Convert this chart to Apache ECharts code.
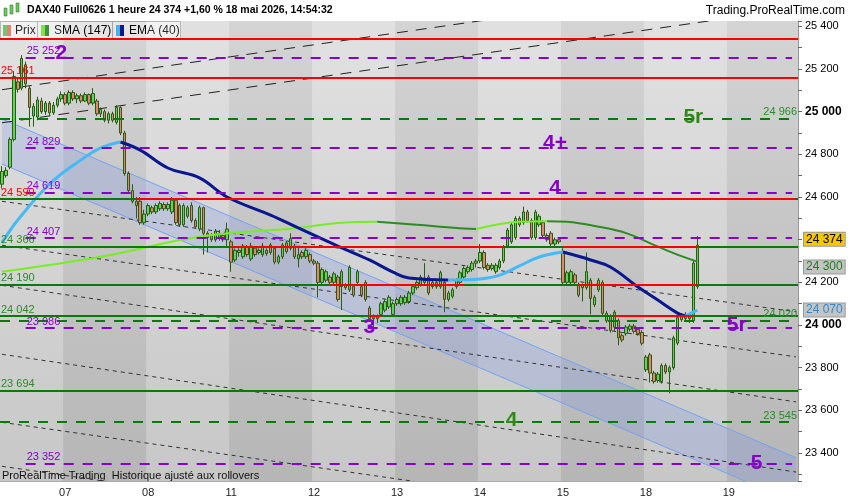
<!DOCTYPE html>
<html>
<head>
<meta charset="utf-8">
<script src="https://cdn.jsdelivr.net/npm/echarts@6/dist/echarts.min.js"></script>
<style>
  html, body { margin: 0; padding: 0; background: #fff; }
  #chart { width: 850px; height: 500px; }
</style>
</head>
<body>
<div id="chart"></div>
<script>
// hourly candles [open, close, low, high], one array per trading day
var day06 = [
  [24660,24720,24640,24745],[24700,24725,24690,24740],[24740,24870,24730,24880],[24870,25165,24860,25190],
  [25140,25105,25090,25160],[25110,25250,25100,25265],[25220,25130,25110,25235],[25110,25020,24930,25120],
  [24980,25025,24930,25040],[24975,25055,24960,25070],[25050,25000,24990,25065],[25000,25040,24985,25050],
  [25040,24995,24980,25050],[24995,25030,24985,25045],[25030,25060,25020,25070],[25060,25080,25045,25095]
];
var day07 = [
  [25080,25040,25030,25090],[25040,25090,25030,25100],[25090,25060,25050,25100],[25060,25075,25040,25085],
  [25075,25050,25040,25085],[25050,25080,25045,25090],[25080,25040,25030,25085],[25040,25085,25030,25110],
  [25050,24990,24980,25060],[24990,25010,24975,25020],[25000,24960,24950,25010],[24960,24990,24945,25000],
  [24990,24960,24950,25000],[24950,25020,24940,25030],[25020,24900,24890,25025],[24900,24710,24700,24910],
  [24710,24630,24620,24720],[24630,24580,24570,24660],[24580,24560,24500,24600],[24580,24480,24470,24600],
  [24480,24520,24470,24540]
];
var day08 = [
  [24520,24560,24510,24570],[24550,24530,24520,24560],[24530,24560,24520,24570],[24545,24570,24535,24580],
  [24565,24545,24535,24575],[24545,24565,24535,24575],[24530,24585,24520,24600],[24585,24480,24470,24590],
  [24560,24470,24460,24570],[24470,24560,24460,24570],[24510,24550,24500,24560],[24560,24490,24480,24575],
  [24490,24460,24450,24500],[24450,24550,24440,24560],[24550,24430,24330,24555],[24430,24410,24340,24440],
  [24420,24400,24390,24430],[24400,24440,24390,24450],[24405,24430,24395,24445],[24420,24400,24390,24430],
  [24400,24450,24370,24480]
];
var day11 = [
  [24390,24295,24250,24400],[24305,24350,24295,24360],[24350,24340,24320,24360],[24320,24370,24310,24380],
  [24365,24330,24320,24375],[24310,24370,24300,24385],[24360,24330,24320,24370],[24340,24350,24330,24360],
  [24330,24370,24320,24385],[24350,24335,24325,24360],[24375,24340,24330,24385],[24360,24295,24285,24370],
  [24295,24320,24285,24330],[24320,24375,24310,24385],[24385,24345,24335,24395],[24360,24405,24350,24430],
  [24370,24320,24310,24380],[24310,24330,24270,24370],[24340,24320,24310,24350],[24320,24350,24310,24360],
  [24330,24300,24290,24340]
];
var day12 = [
  [24300,24290,24280,24310],[24290,24200,24130,24300],[24200,24260,24190,24270],[24210,24250,24200,24260],
  [24225,24200,24190,24235],[24200,24240,24190,24250],[24225,24120,24110,24235],[24180,24250,24070,24260],
  [24185,24175,24165,24195],[24165,24270,24155,24280],[24180,24140,24130,24190],[24200,24250,24190,24260],
  [24180,24140,24130,24190],[24200,24120,24110,24210],[24080,24030,24020,24090],[24040,24030,23990,24050],
  [24040,24030,24010,24050],[24050,24100,24040,24110],[24070,24110,24060,24120],[24085,24130,24075,24140],
  [24050,24100,24040,24110]
];
var day13 = [
  [24100,24120,24090,24130],[24100,24130,24090,24140],[24105,24130,24095,24140],[24110,24150,24100,24160],
  [24150,24180,24140,24190],[24175,24200,24165,24210],[24190,24225,24180,24235],[24200,24220,24190,24290],
  [24225,24150,24140,24235],[24180,24200,24170,24210],[24200,24180,24170,24210],[24180,24245,24170,24255],
  [24200,24120,24060,24210],[24120,24150,24110,24160],[24135,24165,24125,24175],[24180,24210,24170,24220],
  [24200,24245,24190,24255],[24225,24265,24215,24275],[24250,24270,24240,24280],[24260,24290,24250,24300],
  [24290,24300,24270,24310]
];
var day14 = [
  [24300,24340,24290,24380],[24340,24270,24260,24350],[24280,24260,24250,24290],[24265,24280,24255,24290],
  [24250,24280,24240,24290],[24270,24300,24260,24310],[24300,24365,24290,24375],[24370,24445,24360,24455],
  [24390,24470,24380,24480],[24410,24500,24400,24510],[24500,24470,24460,24510],[24480,24530,24470,24555],
  [24530,24490,24480,24540],[24490,24410,24400,24500],[24410,24530,24400,24540],[24470,24510,24460,24520],
  [24480,24420,24410,24490],[24420,24400,24390,24430],[24430,24380,24370,24440],[24380,24400,24370,24410],
  [24400,24390,24380,24410]
];
var day15 = [
  [24340,24200,24190,24360],[24200,24245,24190,24255],[24200,24250,24190,24260],[24235,24200,24190,24245],
  [24190,24140,24130,24200],[24185,24175,24110,24195],[24175,24250,24165,24340],[24210,24125,24050,24220],
  [24095,24130,24085,24140],[24165,24210,24155,24220],[24200,24055,24045,24210],[24020,24055,24010,24065],
  [24040,23975,23965,24050],[23990,24060,23970,24070],[24020,23940,23905,24030],[23950,23930,23920,23960],
  [23960,23990,23950,24000],[23980,23995,23970,24005],[23995,23970,23960,24005],[23980,23960,23950,23990],
  [23965,23915,23905,23975]
];
var day18 = [
  [23790,23850,23780,23860],[23860,23775,23730,23870],[23775,23735,23725,23785],[23740,23770,23730,23780],
  [23735,23810,23725,23820],[23810,23780,23770,23820],[23780,23800,23680,23810],[23800,23940,23790,23950],
  [23915,24035,23905,24045],[24025,24045,24015,24055],[24030,24050,24020,24060],[24040,24030,24010,24050],
  [24020,24290,24010,24300],[24180,24374,24170,24417]
];
var dayNames = ['06', '07', '08', '11', '12', '13', '14', '15', '18', '19'];
var sessionHours = 21;
var totalSlots = 202;

// moving averages: [candle index] -> value
var smaIdx = [0, 25, 50, 75, 85, 95, 106, 117, 120, 131, 138, 143, 151, 158, 164, 170, 176];
var smaVal = [24250, 24320, 24414, 24455, 24478, 24484, 24469, 24452, 24450, 24484, 24487, 24484, 24461, 24431, 24384, 24337, 24297];
var emaIdx = [0, 4, 12, 20, 25, 30, 35, 42, 50, 57, 68, 75, 85, 93, 99, 103, 113, 116, 121, 126, 131, 136, 142, 149, 154, 161, 166, 171, 173, 176];
var emaVal = [24385, 24492, 24660, 24774, 24830, 24858, 24820, 24736, 24690, 24600, 24515, 24455, 24370, 24305, 24248, 24220, 24211, 24212, 24216, 24234, 24277, 24319, 24342, 24305, 24272, 24178, 24117, 24056, 24042, 24070];

// horizontal levels
var redLevels = [25340, 25161];
var greenLevels = [24590, 24366, 24190, 24042, 23694];
var purpleLevels = [25252, 24829, 24619, 24407, 23986, 23352];
var greenDashLevels = [24966, 24020, 23545];
// parts of green levels drawn red: [level, from candle, to candle]
var redSegments = [[24590, 34, 201], [24366, 58, 127], [24366, 142, 176], [24190, 83, 117], [24190, 146, 176], [24042, 93, 96], [24042, 155, 175]];

// trend lines [from index, price, to index, price]
var downLines = [[0, 24580, 201, 24062], [0, 24374, 201, 23851], [0, 24186, 201, 23640], [0, 23863, 201, 23311], [0, 23544, 201, 23011], [0, 23338, 201, 22798]];
var upLines = [[0, 25103, 201, 25639], [0, 24948, 201, 25484]];
// regression channel [from index, upper, lower, to index, upper, lower]
var channel = [[0, 24966, 24755, 201, 23378, 23167]];

// wave counts
var waveText = ['2', '3', '4', '4+', '5r', '4', '5r', '5'];
var waveIdx = [15, 93, 140, 140, 175, 129, 186, 191];
var waveVal = [25275, 23990, 24642, 24853, 24975, 23555, 24000, 23353];
var waveGreen = [false, false, false, false, true, true, false, false];

var lastSma = 24300, lastEma = 24070;

var PURPLE = '#8800cc', RED = '#ff0000', GREEN = '#0a7a0a', GTXT = '#2b8a2b';
var FONT = 'Liberation Sans';

function fmt(v) { return String(Math.round(v)).replace(/\B(?=(\d{3})+(?!\d))/g, ' '); }

var days = [day06, day07, day08, day11, day12, day13, day14, day15, day18];
var candles = [];
var cats = [];
var dayStart = {};
var pos = 0;
days.forEach(function(d, k) {
  if(k > 0) dayStart[pos] = dayNames[k];
  d.forEach(function(c) { candles.push(c); });
  pos += d.length;
});
dayStart[pos - day18.length + sessionHours] = dayNames[9];
for(var i = 0; i < totalSlots; i++) cats.push(dayStart[i] || '');

var lastClose = candles[candles.length - 1][1];

function trendSeries(idx, val, upColor, downColor, width, name) {
  var out = [];
  var cur = [[idx[0], val[0]]];
  var up = val[1] > val[0];
  for(var k = 1; k < idx.length; k++) {
    var u = val[k] > val[k - 1];
    if(u !== up) {
      out.push({ up: up, pts: cur });
      cur = [[idx[k - 1], val[k - 1]]];
      up = u;
    }
    cur.push([idx[k], val[k]]);
  }
  out.push({ up: up, pts: cur });
  return out.map(function(s) {
    return {
      name: name, type: 'line', data: s.pts, smooth: 0.4, symbol: 'none', silent: true, z: 4,
      lineStyle: { color: s.up ? upColor : downColor, width: width }
    };
  });
}

var marks = [];
redLevels.forEach(function(v, k) {
  marks.push({ yAxis: v, lineStyle: { color: RED, width: 2, type: 'solid' },
    label: { show: k > 0, position: 'insideStartTop', formatter: fmt(v), color: RED, distance: 1 } });
});
greenLevels.forEach(function(v, k) {
  marks.push({ yAxis: v, lineStyle: { color: GREEN, width: 2, type: 'solid' },
    label: { show: true, position: 'insideStartTop', formatter: fmt(v), color: k === 0 ? RED : GTXT, distance: 1 } });
});
redSegments.forEach(function(s) {
  marks.push([{ coord: [s[1], s[0]], lineStyle: { color: RED, width: 2, type: 'solid' }, label: { show: false } },
    { coord: [s[2], s[0]] }]);
});
purpleLevels.forEach(function(v) {
  marks.push([{ coord: [6, v], lineStyle: { color: PURPLE, width: 2, type: [10, 9] },
    label: { show: true, position: 'insideStartTop', formatter: fmt(v), color: PURPLE, distance: 1 } },
    { coord: [totalSlots - 2, v] }]);
});
greenDashLevels.forEach(function(v) {
  marks.push({ yAxis: v, lineStyle: { color: GREEN, width: 2, type: [10, 9] },
    label: { show: true, position: 'insideEndTop', formatter: fmt(v), color: GTXT, distance: 1 } });
});
// value boxes on the price axis
var boxes = [
  { v: lastClose, bg: '#f6c800', fg: '#000', dy: -6 },
  { v: lastSma, bg: '#c4c4c4', fg: '#1f7a1f', dy: 6 },
  { v: lastEma, bg: '#c4c4c4', fg: '#2a8ad4', dy: 0 }
];
boxes.forEach(function(b) {
  marks.push({ yAxis: b.v, lineStyle: { color: 'rgba(0,0,0,0)', width: 0 },
    label: { show: true, position: 'end', formatter: fmt(b.v), color: b.fg, backgroundColor: b.bg,
      borderColor: '#999', borderWidth: 1, padding: [1, 2, 0, 2], fontSize: 12, distance: 6, offset: [0, b.dy] } });
});

var wavePoints = waveText.map(function(t, k) {
  return { name: t, coord: [waveIdx[k], waveVal[k]],
    label: { color: waveGreen[k] ? '#2f8a14' : PURPLE } };
});

function bandInterval(idx, val) { return idx === 0 || val !== ''; }
function dayInterval(idx, val) { return val !== ''; }

var chart = echarts.init(document.getElementById('chart'));
var series = [
  {
    type: 'custom', name: 'channel', data: channel, clip: true, silent: true, z: 1,
    renderItem: function(params, api) {
      var a = api.coord([api.value(0), api.value(1)]);
      var b = api.coord([api.value(3), api.value(4)]);
      var c = api.coord([api.value(3), api.value(5)]);
      var d = api.coord([api.value(0), api.value(2)]);
      return { type: 'group', children: [
        { type: 'polygon', shape: { points: [a, b, c, d] }, style: { fill: 'rgba(110,140,235,0.22)' } },
        { type: 'line', shape: { x1: a[0], y1: a[1], x2: b[0], y2: b[1] }, style: { stroke: '#74a2f2', lineWidth: 1 } },
        { type: 'line', shape: { x1: d[0], y1: d[1], x2: c[0], y2: c[1] }, style: { stroke: '#74a2f2', lineWidth: 1 } }
      ] };
    }
  },
  {
    type: 'custom', name: 'down', data: downLines, clip: true, silent: true, z: 2,
    renderItem: function(params, api) {
      var a = api.coord([api.value(0), api.value(1)]);
      var b = api.coord([api.value(2), api.value(3)]);
      return { type: 'line', shape: { x1: a[0], y1: a[1], x2: b[0], y2: b[1] },
        style: { stroke: '#333', lineWidth: 1, lineDash: [4, 4] } };
    }
  },
  {
    type: 'custom', name: 'up', data: upLines, clip: true, silent: true, z: 2,
    renderItem: function(params, api) {
      var a = api.coord([api.value(0), api.value(1)]);
      var b = api.coord([api.value(2), api.value(3)]);
      return { type: 'line', shape: { x1: a[0], y1: a[1], x2: b[0], y2: b[1] },
        style: { stroke: '#222', lineWidth: 1, lineDash: [11, 8] } };
    }
  },
  {
    type: 'candlestick', name: 'Prix', data: candles, barWidth: 3, silent: true, z: 3,
    itemStyle: { color: '#5fd35a', color0: '#e8836f', borderColor: '#2b5a14', borderColor0: '#2b5a14', borderWidth: 1 }
  },
  {
    type: 'line', name: 'levels', data: [], silent: true, z: 5,
    markLine: { silent: true, symbol: ['none', 'none'], animation: false, data: marks,
      label: { fontSize: 11, fontFamily: FONT } },
    markPoint: { silent: true, symbol: 'circle', symbolSize: 0, animation: false, data: wavePoints,
      label: { show: true, position: 'inside', formatter: '{b}', fontSize: 21, fontWeight: 'bold', fontFamily: FONT } }
  }
];
series = series.concat(trendSeries(smaIdx, smaVal, '#77ee22', '#2e8b22', 2, 'SMA'));
series = series.concat(trendSeries(emaIdx, emaVal, '#45baf5', '#0a1890', 3, 'EMA'));

chart.setOption({
  animation: false,
  backgroundColor: '#fff',
  textStyle: { fontFamily: FONT },
  title: [
    { text: 'DAX40 Full0626 1 heure ' + fmt(lastClose) + ' +1,60 % 18 mai 2026, 14:54:32', left: 27, top: 5, padding: 0,
      textStyle: { fontSize: 10.5, fontWeight: 'bold', color: '#000', fontFamily: FONT } },
    { text: 'Trading.ProRealTime.com', right: 5, top: 5, padding: 0,
      textStyle: { fontSize: 12, fontWeight: 'normal', color: '#000', fontFamily: FONT } },
    { text: 'ProRealTime Trading  Historique ajusté aux rollovers', left: 2, top: 470, padding: 0,
      textStyle: { fontSize: 11, fontWeight: 'normal', color: '#111', fontFamily: FONT } }
  ],
  grid: {
    left: 0, right: 52, top: 21, bottom: 19, show: true, borderWidth: 0,
    backgroundColor: new echarts.graphic.LinearGradient(0, 0, 0, 1, [
      { offset: 0, color: '#dcdcdc' }, { offset: 1, color: '#bdbdbd' }
    ])
  },
  xAxis: {
    type: 'category', data: cats, boundaryGap: true,
    axisLine: { lineStyle: { color: '#aaa' } },
    axisTick: { interval: dayInterval, alignWithLabel: true, length: 4, lineStyle: { color: '#777' } },
    axisLabel: { interval: dayInterval, color: '#222', fontSize: 11, margin: 6 },
    splitLine: { show: false },
    splitArea: { show: true, interval: bandInterval,
      areaStyle: { color: ['rgba(255,255,255,0.16)', 'rgba(0,0,0,0.035)'] } }
  },
  yAxis: {
    type: 'value', position: 'right', min: 23269, max: 25425, splitNumber: 20,
    splitLine: { show: false },
    axisLine: { show: true, lineStyle: { color: '#999' } },
    axisTick: { show: true, length: 4, lineStyle: { color: '#666' } },
    axisLabel: {
      margin: 7, fontSize: 11, color: '#000',
      formatter: function(v) {
        if(v % 200 !== 0 || v === 24400) return '';
        if(v % 1000 === 0) return '{b|' + fmt(v) + '}';
        return fmt(v);
      },
      rich: { b: { fontSize: 12, fontWeight: 'bold', color: '#000' } }
    }
  },
  graphic: [
    { type: 'rect', shape: { x: 4, y: 8, width: 3, height: 8 }, style: { fill: '#5fd35a', stroke: '#2b5a14', lineWidth: 0.5 } },
    { type: 'rect', shape: { x: 10, y: 5, width: 3, height: 9 }, style: { fill: '#5fd35a', stroke: '#2b5a14', lineWidth: 0.5 } },
    { type: 'rect', shape: { x: 16, y: 3, width: 3, height: 9 }, style: { fill: '#5fd35a', stroke: '#2b5a14', lineWidth: 0.5 } },
    { type: 'rect', shape: { x: 0.5, y: 21.5, width: 37, height: 18 }, style: { fill: '#efefef', stroke: '#aaa' } },
    { type: 'rect', shape: { x: 3, y: 25, width: 4, height: 11 }, style: { fill: '#4cc44c' } },
    { type: 'rect', shape: { x: 7, y: 25, width: 4, height: 11 }, style: { fill: '#e06a5a' } },
    { type: 'text', x: 15, y: 30.5, style: { text: 'Prix', fontSize: 12, fontFamily: FONT, fill: '#000', verticalAlign: 'middle' } },
    { type: 'rect', shape: { x: 37.5, y: 21.5, width: 75, height: 18 }, style: { fill: '#efefef', stroke: '#aaa' } },
    { type: 'rect', shape: { x: 41, y: 25, width: 4, height: 11 }, style: { fill: '#66e01e' } },
    { type: 'rect', shape: { x: 45, y: 25, width: 4, height: 11 }, style: { fill: '#1e7d1e' } },
    { type: 'text', x: 54, y: 30.5, style: { text: 'SMA (147)', fontSize: 12, fontFamily: FONT, fill: '#000', verticalAlign: 'middle' } },
    { type: 'rect', shape: { x: 112.5, y: 21.5, width: 68, height: 18 }, style: { fill: '#efefef', stroke: '#aaa' } },
    { type: 'rect', shape: { x: 116, y: 25, width: 4, height: 11 }, style: { fill: '#45baf5' } },
    { type: 'rect', shape: { x: 120, y: 25, width: 4, height: 11 }, style: { fill: '#0a1890' } },
    { type: 'text', x: 129, y: 30.5, style: { text: 'EMA (40)', fontSize: 12, fontFamily: FONT, fill: '#000', verticalAlign: 'middle' } }
  ],
  series: series
});
</script>
</body>
</html>
